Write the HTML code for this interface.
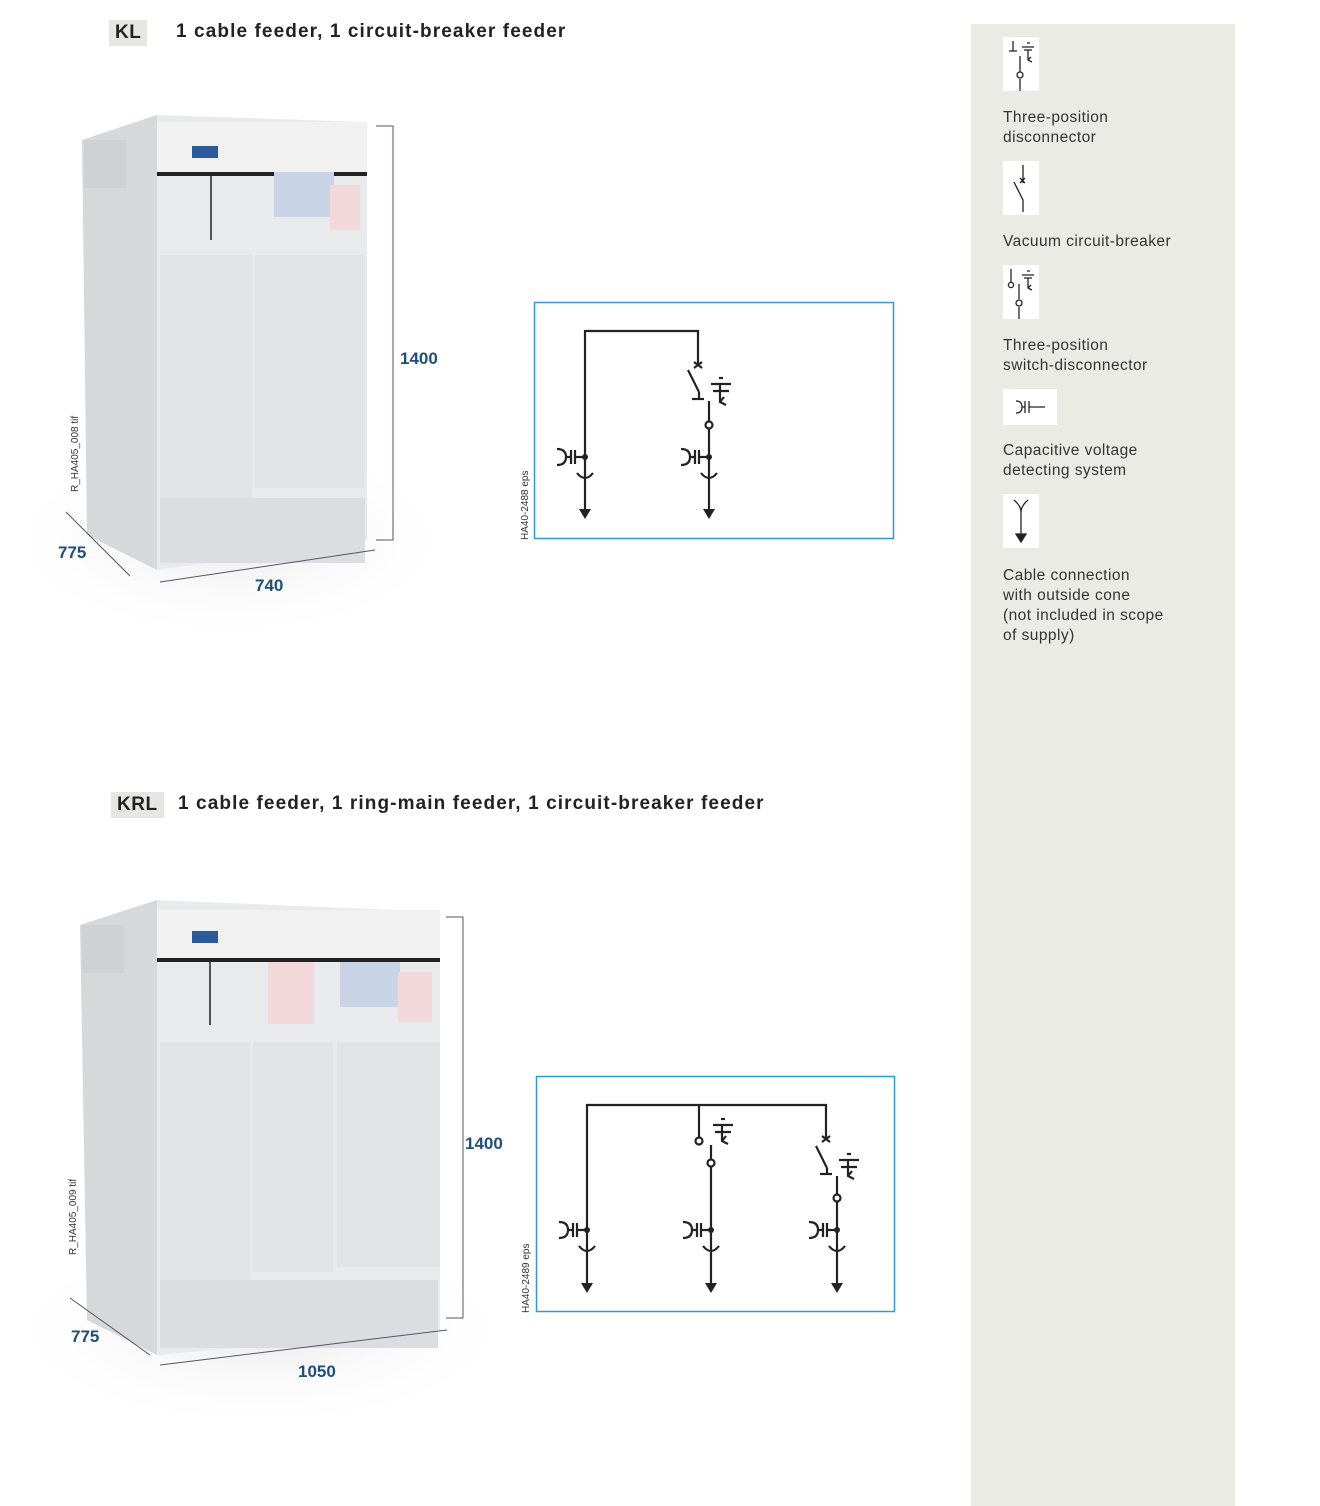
<!DOCTYPE html>
<html><head><meta charset="utf-8"><style>
body{margin:0;width:1320px;height:1506px;background:#fff;font-family:"Liberation Sans",sans-serif;position:relative;overflow:hidden}
.t{position:absolute;font-weight:bold;font-size:19px;color:#222;letter-spacing:1.1px;white-space:nowrap}
.tag{position:absolute;background:#e6e6e2;font-weight:bold;font-size:19px;padding:0 6px;height:26px;line-height:26px;color:#222;letter-spacing:0.5px}
.side{position:absolute;left:971px;top:24px;width:264px;height:1482px;background:#ebebe6}
.lbl{position:absolute;left:1003px;font-size:15.5px;color:#333;line-height:20px;letter-spacing:0.45px;white-space:nowrap}
.ic{position:absolute;left:1003px;background:#fff}
.dim{position:absolute;font-weight:bold;font-size:17px;color:#1e4f7a}
.rot{position:absolute;font-size:10px;color:#333;transform:rotate(-90deg);transform-origin:left top;white-space:nowrap}
</style></head><body>
<div class="tag" style="left:109px;top:20px">KL</div>
<div class="t" style="left:176px;top:21px">1 cable feeder, 1 circuit-breaker feeder</div>
<div class="tag" style="left:111px;top:792px">KRL</div>
<div class="t" style="left:178px;top:793px">1 cable feeder, 1 ring-main feeder, 1 circuit-breaker feeder</div>
<div class="side"></div>

<svg width="1320" height="1506" style="position:absolute;left:0;top:0" fill="none" stroke="#222" stroke-width="2">
<defs>
<radialGradient id="sh" cx="0.5" cy="0.5" r="0.5"><stop offset="0" stop-color="#e8e8ea"/><stop offset="1" stop-color="#fff" stop-opacity="0"/></radialGradient>
</defs>
<ellipse cx="230" cy="540" rx="230" ry="100" fill="url(#sh)" stroke="none"/>
<g stroke="none">
<polygon points="82,140 157,115 157,570 87,535" fill="#d6d8da"/>
<polygon points="157,115 367,122 367,540 157,570" fill="#e9eaeb"/>
<rect x="157" y="122" width="210" height="50" fill="#f1f1f1"/>
<rect x="157" y="172" width="210" height="4" fill="#222"/>
<rect x="160" y="255" width="92" height="243" fill="#e2e3e5"/>
<rect x="255" y="255" width="110" height="233" fill="#e2e3e5"/>
<rect x="160" y="498" width="205" height="65" fill="#dcdde0"/>
<rect x="84" y="140" width="42" height="48" fill="#cfd1d3"/>
<rect x="274" y="172" width="60" height="45" fill="#c9d4e6"/>
<rect x="330" y="185" width="30" height="45" fill="#f2d8da"/>
<rect x="192" y="146" width="26" height="12" fill="#2a5a9a"/>
</g>
<line x1="211" y1="176" x2="211" y2="240" stroke-width="1.5"/>
<polyline points="376,126 393,126 393,540 376,540" stroke="#556" stroke-width="1"/>
<polyline points="66,512 130,576" stroke="#556" stroke-width="1"/>
<polyline points="160,582 375,550" stroke="#556" stroke-width="1"/>

<ellipse cx="260" cy="1330" rx="260" ry="100" fill="url(#sh)" stroke="none"/>
<g stroke="none">
<polygon points="80,925 157,900 157,1355 87,1320" fill="#d6d8da"/>
<polygon points="157,900 440,912 440,1330 157,1355" fill="#e9eaeb"/>
<rect x="157" y="910" width="283" height="48" fill="#f1f1f1"/>
<rect x="157" y="958" width="283" height="4" fill="#222"/>
<rect x="160" y="1042" width="90" height="240" fill="#e2e3e5"/>
<rect x="253" y="1042" width="80" height="230" fill="#e2e3e5"/>
<rect x="337" y="1042" width="103" height="225" fill="#e2e3e5"/>
<rect x="160" y="1280" width="278" height="68" fill="#dcdde0"/>
<rect x="82" y="925" width="42" height="48" fill="#cfd1d3"/>
<rect x="268" y="962" width="46" height="62" fill="#f2d8da"/>
<rect x="340" y="962" width="60" height="45" fill="#c9d4e6"/>
<rect x="398" y="972" width="34" height="50" fill="#f2d8da"/>
<rect x="192" y="931" width="26" height="12" fill="#2a5a9a"/>
</g>
<line x1="210" y1="962" x2="210" y2="1025" stroke-width="1.5"/>
<polyline points="446,917 463,917 463,1318 446,1318" stroke="#556" stroke-width="1"/>
<polyline points="70,1298 150,1355" stroke="#556" stroke-width="1"/>
<polyline points="160,1365 447,1330" stroke="#556" stroke-width="1"/>

<rect x="534.5" y="302.5" width="359" height="236" stroke="#2a9bd6" stroke-width="1.5"/>
<g stroke-width="2.2">
<polyline points="585,510 585,331 698,331 698,365"/>
<path d="M694,362l8,6M702,362l-8,6"/>
<line x1="688" y1="370" x2="699" y2="392"/>
<line x1="699" y1="392" x2="699" y2="399"/><line x1="692" y1="399" x2="704" y2="399"/>
<path d="M711,384h20M713,391h16M720,384v18l6,3M720,402l4,-5"/><line x1="719" y1="378" x2="723" y2="378"/>
<line x1="709" y1="401" x2="709" y2="421"/><circle cx="709" cy="425" r="3.5" fill="#fff"/>
<line x1="709" y1="429" x2="709" y2="510"/>
<path d="M576,457h9M575,450v14M571,450v14M557,449q9,0 9,8q0,8 -9,8M566,457h5"/>
<path d="M700,457h9M699,450v14M695,450v14M681,449q9,0 9,8q0,8 -9,8M690,457h5"/>
<path d="M577,473q8,10 16,0M701,473q8,10 16,0"/>
</g>
<circle cx="585" cy="457" r="3" fill="#222" stroke="none"/><circle cx="709" cy="457" r="3" fill="#222" stroke="none"/>
<polygon points="579,509 591,509 585,519" fill="#222" stroke="none"/>
<polygon points="703,509 715,509 709,519" fill="#222" stroke="none"/>

<rect x="536.5" y="1076.5" width="358" height="235" stroke="#2a9bd6" stroke-width="1.5"/>
<g stroke-width="2.2">
<polyline points="587,1284 587,1105 826,1105 826,1138"/>
<line x1="699" y1="1105" x2="699" y2="1137"/><circle cx="699" cy="1141" r="3.5" fill="#fff"/>
<path d="M713,1125h20M715,1132h16M722,1125v16l6,3M722,1141l4,-5"/><line x1="721" y1="1119" x2="725" y2="1119"/>
<line x1="711" y1="1145" x2="711" y2="1159"/><circle cx="711" cy="1163" r="3.5" fill="#fff"/>
<line x1="711" y1="1167" x2="711" y2="1284"/>
<path d="M822,1136l8,6M830,1136l-8,6"/>
<line x1="816" y1="1146" x2="827" y2="1168"/>
<line x1="827" y1="1168" x2="827" y2="1174"/><line x1="820" y1="1174" x2="832" y2="1174"/>
<path d="M839,1160h20M841,1167h16M848,1160v16l6,3M848,1176l4,-5"/><line x1="847" y1="1154" x2="851" y2="1154"/>
<line x1="837" y1="1176" x2="837" y2="1194"/><circle cx="837" cy="1198" r="3.5" fill="#fff"/>
<line x1="837" y1="1202" x2="837" y2="1284"/>
<path d="M578,1230h9M577,1223v14M573,1223v14M559,1222q9,0 9,8q0,8 -9,8M568,1230h5"/>
<path d="M702,1230h9M701,1223v14M697,1223v14M683,1222q9,0 9,8q0,8 -9,8M692,1230h5"/>
<path d="M828,1230h9M827,1223v14M823,1223v14M809,1222q9,0 9,8q0,8 -9,8M818,1230h5"/>
<path d="M579,1246q8,10 16,0M703,1246q8,10 16,0M829,1246q8,10 16,0"/>
</g>
<circle cx="587" cy="1230" r="3" fill="#222" stroke="none"/><circle cx="711" cy="1230" r="3" fill="#222" stroke="none"/><circle cx="837" cy="1230" r="3" fill="#222" stroke="none"/>
<polygon points="581,1283 593,1283 587,1293" fill="#222" stroke="none"/>
<polygon points="705,1283 717,1283 711,1293" fill="#222" stroke="none"/>
<polygon points="831,1283 843,1283 837,1293" fill="#222" stroke="none"/>
</svg>

<div class="dim" style="left:400px;top:349px">1400</div>
<div class="dim" style="left:58px;top:543px">775</div>
<div class="dim" style="left:255px;top:576px">740</div>
<div class="dim" style="left:465px;top:1134px">1400</div>
<div class="dim" style="left:71px;top:1327px">775</div>
<div class="dim" style="left:298px;top:1362px">1050</div>
<div class="rot" style="left:70px;top:492px">R_HA405_008 tif</div>
<div class="rot" style="left:520px;top:540px">HA40-2488 eps</div>
<div class="rot" style="left:68px;top:1255px">R_HA405_009 tif</div>
<div class="rot" style="left:521px;top:1313px">HA40-2489 eps</div>

<div class="ic" style="top:37px;width:36px;height:54px"><svg width="36" height="54" fill="none" stroke="#222" stroke-width="1.3"><path d="M10,4v10M6,14h8M19,10h12M21,13h8M24,6h3M25,13v10l4,2M25,23l3,-3M17,19v16M17,42v12"/><circle cx="17" cy="38" r="3"/></svg></div>
<div class="lbl" style="top:108px">Three-position<br>disconnector</div>
<div class="ic" style="top:161px;width:36px;height:54px"><svg width="36" height="54" fill="none" stroke="#222" stroke-width="1.3"><path d="M20,4v18M17,17l5,5M22,17l-5,5M11,21l9,18v12"/></svg></div>
<div class="lbl" style="top:232px">Vacuum circuit-breaker</div>
<div class="ic" style="top:265px;width:36px;height:54px"><svg width="36" height="54" fill="none" stroke="#222" stroke-width="1.3"><path d="M8,4v13M19,10h12M21,13h8M24,6h3M25,13v10l4,2M25,23l3,-3M16,19v15M16,42v12"/><circle cx="8" cy="20" r="2.6"/><circle cx="16" cy="38" r="3"/></svg></div>
<div class="lbl" style="top:336px">Three-position<br>switch-disconnector</div>
<div class="ic" style="top:389px;width:54px;height:36px"><svg width="54" height="36" fill="none" stroke="#222" stroke-width="1.3"><path d="M13,12q6,0 6,6q0,6 -6,6M19,18h3M22,12v12M26,12v12M26,18h16"/></svg></div>
<div class="lbl" style="top:441px">Capacitive voltage<br>detecting system</div>
<div class="ic" style="top:494px;width:36px;height:54px"><svg width="36" height="54" fill="none" stroke="#222" stroke-width="1.3"><path d="M11,6q7,6 7,12q0,-6 7,-12M18,18v24"/><polygon points="13,40 23,40 18,48" fill="#222"/></svg></div>
<div class="lbl" style="top:566px">Cable connection<br>with outside cone<br>(not included in scope<br>of supply)</div>
</body></html>
